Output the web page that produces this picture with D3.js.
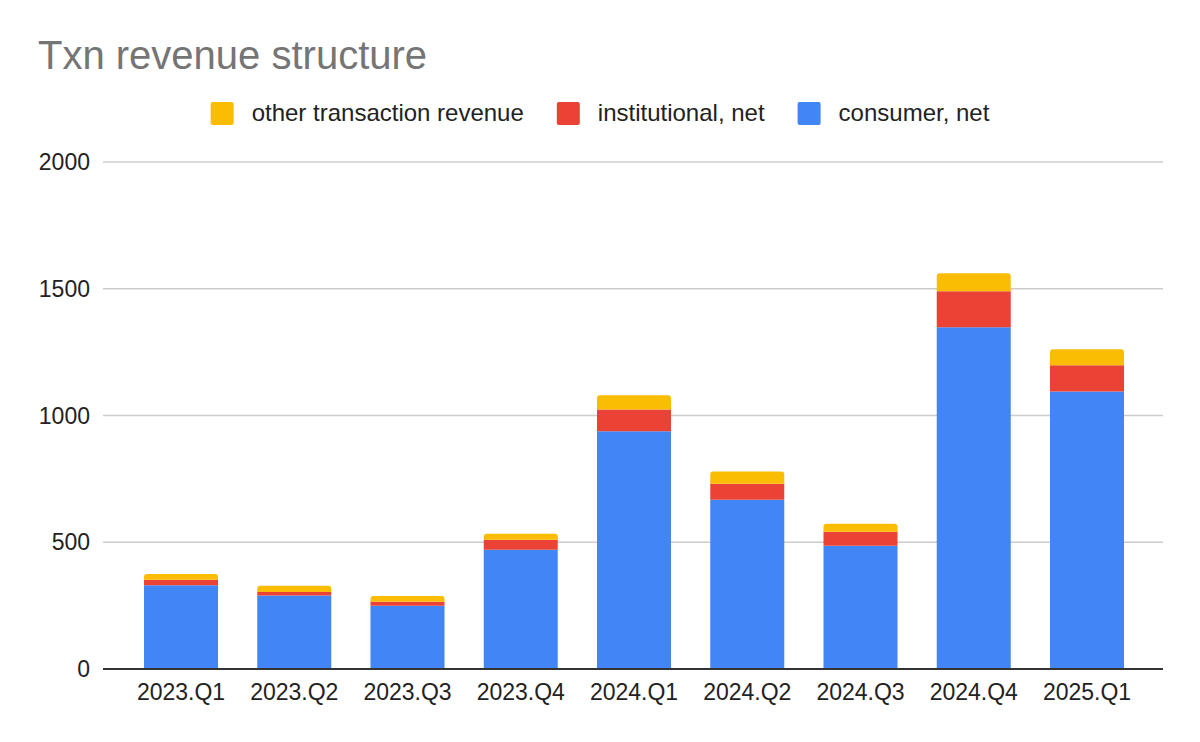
<!DOCTYPE html>
<html><head><meta charset="utf-8">
<script src="https://cdn.jsdelivr.net/npm/d3@7"></script>
<style>body{margin:0;background:#fff;} svg{display:block;font-family:"Liberation Sans",Arial,sans-serif;}</style>
</head><body>
<svg id="chart" width="1200" height="742"></svg>
<script>
const categories = ["2023.Q1","2023.Q2","2023.Q3","2023.Q4","2024.Q1","2024.Q2","2024.Q3","2024.Q4","2025.Q1"];
const consumerNet = [330, 290, 250, 470, 938, 668, 486, 1348, 1095];
const institutionalNet = [22, 14, 15, 40, 86, 63, 55, 142, 103];
const otherTxn = [23, 24, 23, 24, 56, 48, 32, 71, 63];
const seriesNames = ["consumer, net","institutional, net","other transaction revenue"];
const seriesColors = ["#4285F4","#EA4335","#FBBC04"];
const yTicks = [0, 500, 1000, 1500, 2000];
const title = "Txn revenue structure";

const svg = d3.select("#chart");
const plotL = 103, plotR = 1163, plotT = 162, plotB = 669;

const rows = categories.map((c,i)=>({cat:c, s0:consumerNet[i], s1:institutionalNet[i], s2:otherTxn[i]}));
const stack = d3.stack().keys(["s0","s1","s2"])(rows);

const step = 113.25, bw = 74;
const x = d3.scaleBand().domain(categories)
  .range([144 - (step-bw)/2, 144 - (step-bw)/2 + step*categories.length])
  .paddingInner(1 - bw/step).paddingOuter((1 - bw/step)/2);
const y = d3.scaleLinear().domain([0, 2000]).range([plotB, plotT]);

// title
svg.append("text").attr("x", 38).attr("y", 69).attr("fill", "#757575")
  .attr("font-size", 40).text(title);

// gridlines
svg.append("g").selectAll("line").data(yTicks.filter(t=>t>0)).join("line")
  .attr("x1", plotL).attr("x2", plotR)
  .attr("y1", d=>y(d)).attr("y2", d=>y(d))
  .attr("stroke", "#cccccc").attr("stroke-width", 1.5);

// y labels
svg.append("g").selectAll("text").data(yTicks).join("text")
  .attr("x", 90).attr("y", d=>y(d)).attr("dy", "0.35em")
  .attr("text-anchor", "end").attr("font-size", 23).attr("fill", "#222")
  .text(d=>d);

// bars
const g = svg.append("g");
stack.forEach((layer, li) => {
  const top = li === stack.length - 1;
  g.append("g").selectAll("path").data(layer).join("path")
    .attr("fill", seriesColors[li])
    .attr("d", d => {
      const x0 = x(d.data.cat), x1 = x0 + x.bandwidth();
      const y0 = y(d[0]), y1 = y(d[1]);
      if (!top) return `M${x0},${y0}L${x0},${y1}L${x1},${y1}L${x1},${y0}Z`;
      const r = Math.min(3, (y0 - y1));
      return `M${x0},${y0}L${x0},${y1+r}Q${x0},${y1} ${x0+r},${y1}L${x1-r},${y1}Q${x1},${y1} ${x1},${y1+r}L${x1},${y0}Z`;
    });
});

// baseline
svg.append("line").attr("x1", plotL).attr("x2", plotR)
  .attr("y1", y(0)).attr("y2", y(0)).attr("stroke", "#333").attr("stroke-width", 2);

// x labels
svg.append("g").selectAll("text").data(categories).join("text")
  .attr("x", d=>x(d)+x.bandwidth()/2).attr("y", 700)
  .attr("text-anchor", "middle").attr("font-size", 23).attr("fill", "#222")
  .text(d=>d);

// legend (order: other, institutional, consumer)
const legendOrder = [2,1,0];
const lg = svg.append("g");
let cx = 0;
legendOrder.forEach((si, k) => {
  const it = lg.append("g");
  it.append("rect").attr("x", 0).attr("y", 102).attr("width", 23).attr("height", 23)
    .attr("rx", 2).attr("fill", seriesColors[si]);
  const t = it.append("text").attr("x", 41).attr("y", 121).attr("font-size", 24)
    .attr("fill", "#222").text(seriesNames[si]);
  const w = 41 + t.node().getComputedTextLength();
  it.attr("transform", `translate(${cx},0)`);
  cx += w + 33;
});
const totalW = cx - 33;
lg.attr("transform", `translate(${600 - totalW/2},0)`);
</script>
</body></html>
